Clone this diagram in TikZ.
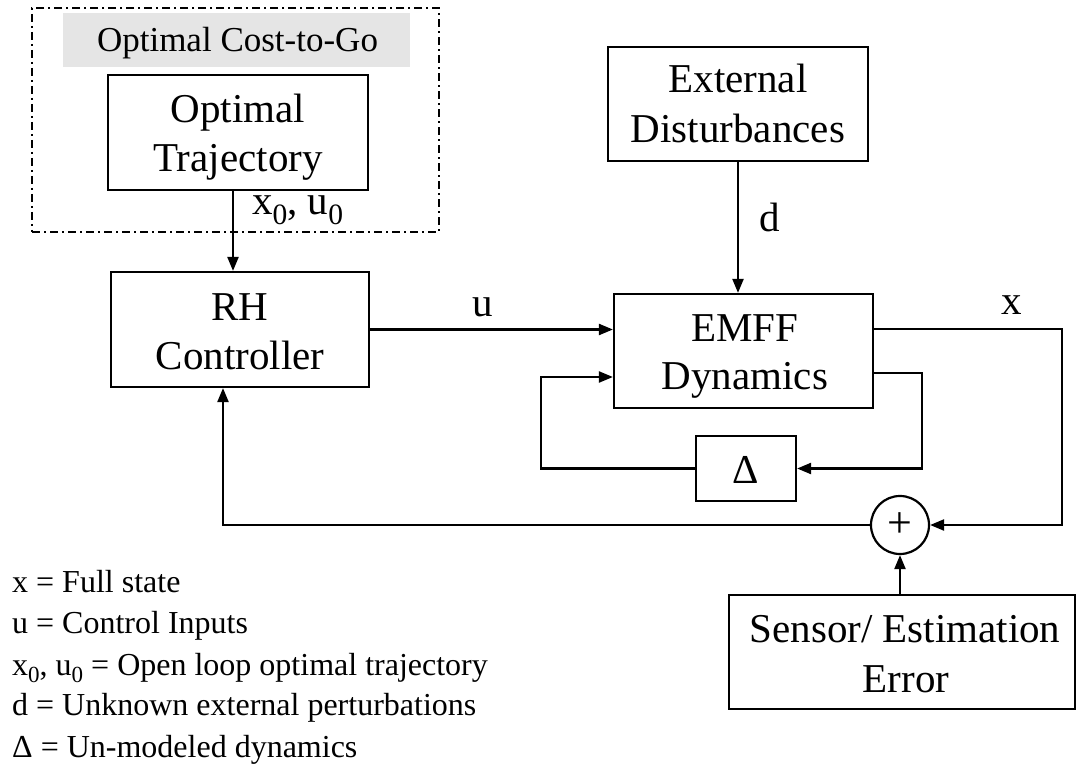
\documentclass[tikz,border=0pt]{standalone}
\usepackage{fontspec}
\setmainfont{Liberation Serif}
\usetikzlibrary{arrows.meta}
\newcommand{\sbz}[1]{\raisebox{-0.22em}{\fontsize{0.72em}{1em}\selectfont #1}}
\begin{document}
\begin{tikzpicture}[x=1pt,y=-1pt,
 blk/.style={draw,line width=2.2pt,rectangle,inner sep=0pt},
 lbl/.style={font=\fontsize{41}{49}\selectfont,inner sep=0pt,anchor=base},
 leg/.style={font=\fontsize{32}{41}\selectfont,inner sep=0pt,anchor=base west},
 con/.style={line width=2.2pt,-{Triangle[length=14pt,width=11pt]}},
 ln/.style={line width=2.2pt}]
\useasboundingbox (0,0) rectangle (1077,767);

% optimal cost-to-go group
\node[fill=black!10,minimum width=347pt,minimum height=54pt,inner sep=0pt] (band) at (236.5,40) {};
\node[draw,line width=1.8pt,dash pattern=on 8pt off 4pt on 2pt off 4pt,minimum width=407pt,minimum height=224pt,inner sep=0pt] (grp) at (235.5,120) {};
\node[font=\fontsize{35}{40}\selectfont,inner sep=0pt,anchor=base] (cost) at (237.5,52) {Optimal Cost-to-Go};

% blocks
\node[blk,minimum width=260pt,minimum height=115pt] (ot) at (238,132.5) {};
\node[lbl] (otA) at (238,123) {Optimal};
\node[lbl] (otB) at (238,172) {Trajectory};

\node[blk,minimum width=258pt,minimum height=115pt] (rh) at (240,329.5) {};
\node[lbl] (rhA) at (240,321) {RH};
\node[lbl] (rhB) at (240,370) {Controller};

\node[blk,minimum width=260pt,minimum height=114pt] (ed) at (738,104) {};
\node[lbl] (edA) at (738,93) {External};
\node[lbl] (edB) at (738,143) {Disturbances};

\node[blk,minimum width=259pt,minimum height=114pt] (emff) at (743.5,351) {};
\node[lbl] (emA) at (745,342) {EMFF};
\node[lbl] (emB) at (745,390) {Dynamics};

\node[blk,minimum width=100pt,minimum height=65pt] (delta) at (746,468.5) {};
\node[lbl] (dl) at (746,483) {Δ};

\node[draw,circle,line width=2.2pt,minimum size=58pt,inner sep=0pt,font=\fontsize{44}{44}\selectfont] (sum) at (900,525) {+};

\node[blk,minimum width=346pt,minimum height=114pt] (sens) at (902,652) {};
\node[lbl] (seA) at (905,642) {Sensor/ Estimation};
\node[lbl] (seB) at (906,692) {Error};

% signal labels
\node[lbl,anchor=base west] (x0u0) at (252,215) {x\sbz{0}, u\sbz{0}};
\node[lbl] (ulab) at (483,317) {u};
\node[lbl] (xlab) at (1012,315) {x};
\node[lbl] (dlab) at (770,232) {d};

% helper coordinates
\coordinate (xr) at (1062,0);
\coordinate (dr) at (922,0);
\coordinate (lft) at (541,0);
\coordinate (fin) at ([yshift=-26pt]emff.west);

% connectors
\draw[con] ([xshift=-5pt]ot.south) -- ([xshift=-5pt]ot.south |- rh.north);
\draw[con] (ed.south) -- (ed.south |- emff.north);
\draw[con] (rh.east) -- (rh.east -| emff.west);
\draw[con] ([yshift=22pt]emff.east) -| (xr |- sum.east) -- (sum.east);
\draw[con] ([yshift=-22pt]emff.east) -| (dr |- delta.east) -- (delta.east);
\draw[con] (delta.west) -| (lft |- fin) -- (fin);
\draw[con] (sum.west) -| ([xshift=-17pt]rh.south);
\draw[con] (sens.north -| sum) -- (sum.south);

% legend
\node[leg] (l1) at (12,592) {x = Full state};
\node[leg] (l2) at (12,633) {u = Control Inputs};
\node[leg] (l3) at (12,675) {x\sbz{0}, u\sbz{0} = Open loop optimal trajectory};
\node[leg] (l4) at (12,715) {d = Unknown external perturbations};
\node[leg] (l5) at (12,757) {Δ = Un-modeled dynamics};
\end{tikzpicture}
\end{document}
